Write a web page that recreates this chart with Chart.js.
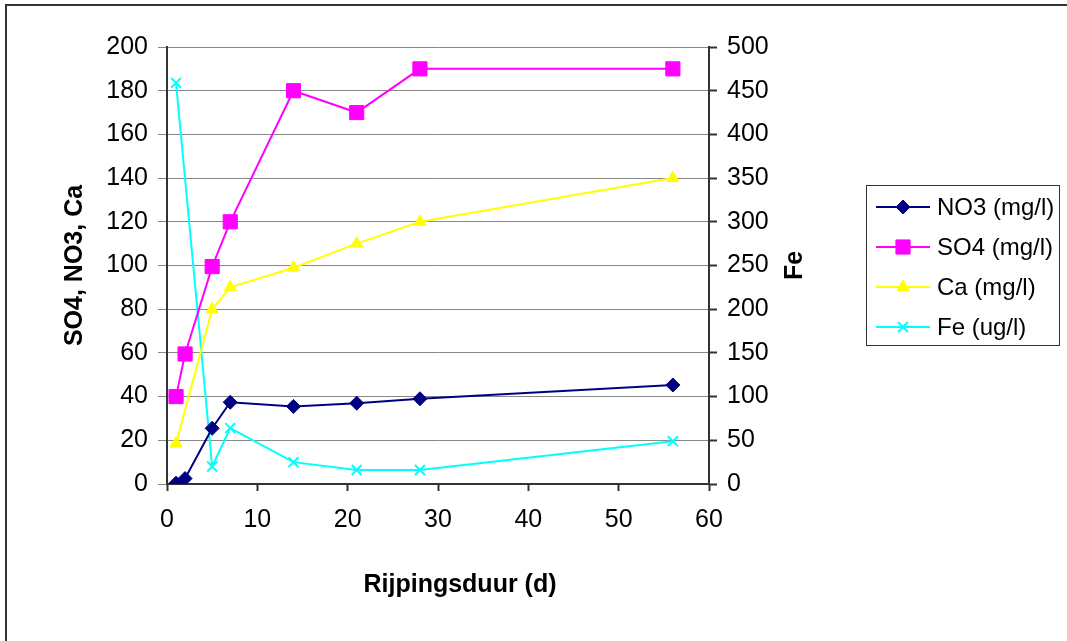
<!DOCTYPE html>
<html>
<head>
<meta charset="utf-8">
<script src="https://cdn.jsdelivr.net/npm/chart.js@4/dist/chart.umd.min.js"></script>
<style>
  html, body { margin: 0; padding: 0; background: #fff; }
  #wrap { width: 1067px; height: 641px; }
</style>
</head>
<body>
<div id="wrap"><canvas id="c" width="1067" height="641"></canvas></div>
<script>
// Ripening time (days) and measured concentrations
const days = [1, 2, 5, 7, 14, 21, 28, 56];
const no3 = [0.4, 2.5, 25.5, 37.4, 35.5, 37, 39, 45.3];
const so4 = [40, 59.5, 99.5, 120, 180, 170, 190, 190];
const ca  = [18.5, null, 80, 90, 99, 110, 120, 140];
const fe  = [459, null, 20, 64, 25, 16, 16, 49];

const seriesNames = ['NO3 (mg/l)', 'SO4 (mg/l)', 'Ca (mg/l)', 'Fe (ug/l)'];
const xTitle = 'Rijpingsduur (d)';
const yLeftTitle = 'SO4, NO3, Ca';
const yRightTitle = 'Fe';

const FONT = '"Liberation Sans", Arial, sans-serif';
const pts = arr => days.map((d, i) => ({ x: d, y: arr[i] }));

// Titles, legend and frame drawn on the canvas
const decorations = {
  id: 'decorations',
  beforeDraw(chart) {
    const ctx = chart.ctx;
    ctx.save();
    ctx.fillStyle = '#fff';
    ctx.fillRect(0, 0, chart.width, chart.height);
    ctx.fillStyle = '#333';
    ctx.fillRect(5, 4, chart.width, 2);
    ctx.fillRect(5, 4, 2, chart.height);
    ctx.restore();
  },
  afterDraw(chart) {
    const ctx = chart.ctx;
    const area = chart.chartArea;
    ctx.save();
    ctx.fillStyle = '#000';
    ctx.font = 'bold 25px ' + FONT;
    ctx.textAlign = 'center';
    ctx.textBaseline = 'middle';
    ctx.fillText(xTitle, 460, 585);

    ctx.save();
    ctx.translate(75, (area.top + area.bottom) / 2);
    ctx.rotate(-Math.PI / 2);
    ctx.fillText(yLeftTitle, 0, 0);
    ctx.restore();

    ctx.save();
    ctx.translate(795, (area.top + area.bottom) / 2);
    ctx.rotate(-Math.PI / 2);
    ctx.fillText(yRightTitle, 0, 0);
    ctx.restore();

    // legend box
    ctx.strokeStyle = '#333';
    ctx.lineWidth = 1;
    ctx.strokeRect(866.5, 185.5, 193, 160);
    ctx.font = '24px ' + FONT;
    ctx.textAlign = 'left';
    chart.data.datasets.forEach((ds, i) => {
      const y = 207 + i * 40;
      ctx.strokeStyle = ds.borderColor;
      ctx.lineWidth = 2;
      ctx.beginPath();
      ctx.moveTo(876, y);
      ctx.lineTo(930, y);
      ctx.stroke();
      ctx.fillStyle = ds.pointBackgroundColor;
      ctx.strokeStyle = ds.pointBorderColor;
      ctx.lineWidth = ds.pointBorderWidth;
      Chart.helpers.drawPoint(ctx, {
        pointStyle: ds.pointStyle, radius: ds.pointRadius,
        borderWidth: ds.pointBorderWidth, rotation: 0
      }, 903, y);
      ctx.fillStyle = '#000';
      ctx.fillText(ds.label, 937, y + 1);
    });
    ctx.restore();
  }
};

const mk = (label, arr, color, style, radius, axis) => ({
  label, data: pts(arr), yAxisID: axis,
  borderColor: color, backgroundColor: color, borderWidth: 2,
  pointStyle: style, pointRadius: radius, pointHoverRadius: radius,
  pointBackgroundColor: color, pointBorderColor: color,
  pointBorderWidth: style === 'crossRot' ? 2 : 1,
  spanGaps: true, tension: 0, fill: false
});

new Chart(document.getElementById('c'), {
  type: 'line',
  data: {
    datasets: [
      mk(seriesNames[0], no3, '#000080', 'rectRot', 7, 'y'),
      mk(seriesNames[1], so4, '#FF00FF', 'rect', 10, 'y'),
      mk(seriesNames[2], ca, '#FFFF00', 'triangle', 7, 'y'),
      mk(seriesNames[3], fe, '#00FFFF', 'crossRot', 7, 'y1')
    ]
  },
  options: {
    responsive: false,
    devicePixelRatio: 1,
    animation: false,
    events: [],
    layout: { padding: { left: 0, top: 47, right: 0, bottom: 0 } },
    plugins: { legend: { display: false }, tooltip: { enabled: false } },
    scales: {
      x: {
        type: 'linear', min: 0, max: 60,
        afterFit: s => { s.height = 157; },
        ticks: { stepSize: 10, color: '#000', font: { family: FONT, size: 25 }, padding: 14, maxRotation: 0 },
        grid: { drawOnChartArea: false, drawTicks: true, tickLength: 7, tickColor: '#333', tickWidth: 2 },
        border: { color: '#333', width: 2 }
      },
      y: {
        position: 'left', min: 0, max: 200,
        afterFit: s => { s.width = 167; },
        ticks: { stepSize: 20, color: '#000', font: { family: FONT, size: 25 }, padding: 10 },
        grid: { color: '#888', lineWidth: 1, tickLength: 9, tickColor: '#888' },
        border: { color: '#333', width: 2 }
      },
      y1: {
        position: 'right', min: 0, max: 500,
        afterFit: s => { s.width = 358; },
        ticks: { stepSize: 50, color: '#000', font: { family: FONT, size: 25 }, padding: 10 },
        grid: { drawOnChartArea: false, tickLength: 8, tickColor: '#333', tickWidth: 2 },
        border: { color: '#333', width: 2 }
      }
    }
  },
  plugins: [decorations]
});
</script>
</body>
</html>
